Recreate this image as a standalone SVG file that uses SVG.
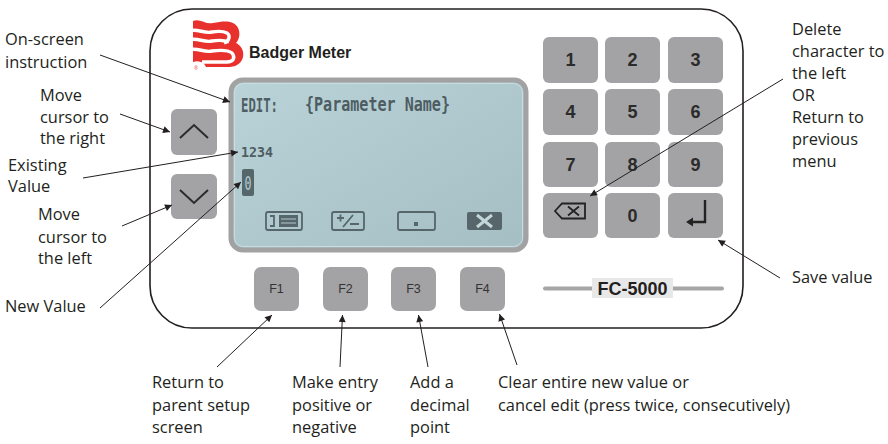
<svg xmlns="http://www.w3.org/2000/svg" width="888" height="444" viewBox="0 0 888 444">
<defs>
<style>
.lbl{font-family:"Open Sans","Liberation Sans",sans-serif;font-size:16.4px;fill:#231f20}
.key{fill:#a3a3a5}
.dig{font-family:"Liberation Sans",Arial,sans-serif;font-weight:bold;font-size:18px;fill:#2b2b2b;text-anchor:middle}
.fk{font-family:"Liberation Sans",Arial,sans-serif;font-size:12.5px;fill:#333;text-anchor:middle}
.lcd{font-family:"DejaVu Sans Mono",monospace;font-weight:bold;fill:#4e5d62}
.ico{fill:none;stroke:#56666b;stroke-width:1.8}
.con line{stroke:#231f20;stroke-width:1;marker-end:url(#ah)}
.red{fill:#e8312d}
</style>
<marker id="ah" viewBox="0 0 10 10" refX="10" refY="5" markerWidth="9" markerHeight="7" markerUnits="userSpaceOnUse" orient="auto">
<path d="M0,0 L10,5 L0,10 Z" fill="#231f20"/>
</marker>
<linearGradient id="scr" x1="0" y1="0" x2="1" y2="1">
<stop offset="0" stop-color="#bad3d9"/>
<stop offset="1" stop-color="#a4bec4"/>
</linearGradient>
</defs>
<rect width="888" height="444" fill="#fff"/>

<g id="device">
<rect x="150" y="9" width="593" height="319" rx="42" fill="#fff" stroke="#231f20" stroke-width="1.6"/>
</g>

<g id="logo">
<path class="red" d="M193,21 C200,18 206,25 213,23 C219,22 225,21 230,22 C240,24 242,36 236,43 C247,48 246,66 230,67 L206,67 C204,62 199,60 193,62 Z"/>
<g fill="none" stroke="#fff" stroke-width="3.4">
<path d="M189,31 C197,28 204,34 212,32 C218,31 223,31 227,33 C231,36 229,41 224,43"/>
<path d="M189,40 C197,37 204,43 212,41 C218,40 224,40 229,42"/>
<path d="M189,50 C197,47 204,53 212,51 C220,50 228,50 232,53 C236,58 233,62 227,62 L202,62"/>
</g>
<text x="196" y="70" font-family="Liberation Sans,sans-serif" font-size="5" fill="#e8312d" text-anchor="middle">®</text>
<text x="249" y="58" font-family="Liberation Sans,Arial,sans-serif" font-weight="bold" font-size="16" fill="#231f20">Badger Meter</text>
</g>

<g id="screen">
<rect x="231" y="80" width="295" height="170" rx="12" fill="url(#scr)" stroke="#a2a2a2" stroke-width="5"/>
<rect x="234.5" y="83.5" width="288" height="163" rx="9" fill="none" stroke="#c9dde1" stroke-width="1"/>
<text class="lcd" x="241" y="112" font-size="19" textLength="37" lengthAdjust="spacingAndGlyphs">EDIT:</text>
<text class="lcd" x="305" y="111" font-size="19" textLength="145" lengthAdjust="spacingAndGlyphs">{Parameter Name}</text>
<text class="lcd" x="241" y="157" font-size="14" textLength="32" lengthAdjust="spacingAndGlyphs" fill="#5a6a6e">1234</text>
<rect x="242" y="169" width="12" height="27" rx="2" fill="#56676c"/>
<text x="248" y="190" font-family="DejaVu Sans Mono,monospace" font-size="20" fill="#b2cacf" text-anchor="middle" textLength="7" lengthAdjust="spacingAndGlyphs">0</text>
<g id="icon-f1">
<rect class="ico" x="266" y="212" width="36" height="18" rx="2"/>
<path d="M270,216 H274 V226 H270" fill="none" stroke="#56666b" stroke-width="1.8"/>
<rect x="279" y="215" width="19" height="12" fill="#56666b"/>
<path d="M281,219 H296 M281,223 H296" stroke="#b0c8cd" stroke-width="1.2"/>
</g>
<g id="icon-f2">
<rect class="ico" x="332" y="212" width="32" height="18" rx="2"/>
<path d="M337,218 H344 M340.5,214.5 V221.5 M353,215 L343,227 M350,224 H359" fill="none" stroke="#56666b" stroke-width="1.8"/>
</g>
<g id="icon-f3">
<rect class="ico" x="398" y="212" width="37" height="18" rx="2"/>
<rect x="414" y="222" width="4" height="4" fill="#56666b"/>
</g>
<g id="icon-f4">
<rect x="467" y="212" width="35" height="18" rx="2" fill="#56666b"/>
<path d="M477,215 L492,227 M492,215 L477,227" stroke="#c3d6da" stroke-width="3"/>
</g>
</g>

<g id="btn-up">
<rect class="key" x="171" y="109" width="46" height="46" rx="6"/>
<polyline points="180,138 194,125 208,138" fill="none" stroke="#2b2b2b" stroke-width="2"/>
</g>
<g id="btn-down">
<rect class="key" x="171" y="174" width="46" height="45" rx="6"/>
<polyline points="180,190 194,203 208,190" fill="none" stroke="#2b2b2b" stroke-width="2"/>
</g>

<g id="keypad">
<g id="k1"><rect class="key" x="543" y="37" width="55" height="46" rx="6"/><text class="dig" x="570.5" y="66">1</text></g>
<g id="k2"><rect class="key" x="605" y="37" width="55" height="46" rx="6"/><text class="dig" x="632.5" y="66">2</text></g>
<g id="k3"><rect class="key" x="668" y="37" width="55" height="46" rx="6"/><text class="dig" x="695.5" y="66">3</text></g>
<g id="k4"><rect class="key" x="543" y="89" width="55" height="46" rx="6"/><text class="dig" x="570.5" y="118">4</text></g>
<g id="k5"><rect class="key" x="605" y="89" width="55" height="46" rx="6"/><text class="dig" x="632.5" y="118">5</text></g>
<g id="k6"><rect class="key" x="668" y="89" width="55" height="46" rx="6"/><text class="dig" x="695.5" y="118">6</text></g>
<g id="k7"><rect class="key" x="543" y="142" width="55" height="45" rx="6"/><text class="dig" x="570.5" y="171">7</text></g>
<g id="k8"><rect class="key" x="605" y="142" width="55" height="45" rx="6"/><text class="dig" x="632.5" y="171">8</text></g>
<g id="k9"><rect class="key" x="668" y="142" width="55" height="45" rx="6"/><text class="dig" x="695.5" y="171">9</text></g>
<g id="kbs"><rect class="key" x="543" y="193" width="55" height="45" rx="6"/>
<path d="M555,211 L562,203.5 H585 V218.5 H562 Z M568,206.5 L579,215.5 M568,215.5 L579,206.5" fill="none" stroke="#222" stroke-width="1.8" stroke-linejoin="miter"/></g>
<g id="k0"><rect class="key" x="605" y="193" width="55" height="45" rx="6"/><text class="dig" x="632.5" y="222">0</text></g>
<g id="kent"><rect class="key" x="668" y="193" width="55" height="45" rx="6"/>
<path d="M705,200 V222 H690" fill="none" stroke="#222" stroke-width="2.4"/>
<path d="M686,222 L693,217.5 V226.5 Z" fill="#222"/></g>
</g>

<g id="fkeys">
<g id="f1"><rect class="key" x="254" y="267" width="45" height="44" rx="7"/><text class="fk" x="276.5" y="293">F1</text></g>
<g id="f2"><rect class="key" x="323" y="267" width="45" height="44" rx="7"/><text class="fk" x="345.5" y="293">F2</text></g>
<g id="f3"><rect class="key" x="391" y="267" width="45" height="44" rx="7"/><text class="fk" x="413.5" y="293">F3</text></g>
<g id="f4"><rect class="key" x="460" y="267" width="45" height="44" rx="7"/><text class="fk" x="482.5" y="293">F4</text></g>
</g>

<g id="model">
<line x1="545" y1="288.5" x2="722" y2="288.5" stroke="#a6a6a6" stroke-width="4" stroke-linecap="round"/>
<rect x="592" y="278" width="81" height="20" fill="#e8e8e8"/>
<text x="632.5" y="294.5" font-family="Liberation Sans,Arial,sans-serif" font-weight="bold" font-size="18" fill="#231f20" text-anchor="middle">FC-5000</text>
</g>

<g id="connectors" class="con">
<line x1="100" y1="55" x2="230" y2="102"/>
<line x1="120" y1="114" x2="170" y2="132"/>
<line x1="83" y1="178" x2="238" y2="152"/>
<line x1="122" y1="226" x2="172" y2="205"/>
<line x1="100" y1="308" x2="241" y2="182"/>
<line x1="783" y1="79" x2="590" y2="196"/>
<line x1="780" y1="278" x2="718" y2="240"/>
<line x1="217" y1="367" x2="272" y2="315"/>
<line x1="340" y1="367" x2="342.5" y2="315"/>
<line x1="428" y1="367" x2="418.5" y2="315"/>
<line x1="517" y1="365" x2="499.5" y2="314"/>
</g>

<g id="lbl-onscreen"><text class="lbl" x="5" y="45">On-screen</text><text class="lbl" x="5" y="68">instruction</text></g>
<g id="lbl-right"><text class="lbl" x="40" y="101">Move</text><text class="lbl" x="40" y="123">cursor to</text><text class="lbl" x="40" y="144">the right</text></g>
<g id="lbl-existing"><text class="lbl" x="8" y="171">Existing</text><text class="lbl" x="8" y="192">Value</text></g>
<g id="lbl-left"><text class="lbl" x="38" y="220">Move</text><text class="lbl" x="38" y="243">cursor to</text><text class="lbl" x="38" y="264">the left</text></g>
<g id="lbl-new"><text class="lbl" x="5" y="312">New Value</text></g>
<g id="lbl-delete"><text class="lbl" x="792" y="35">Delete</text><text class="lbl" x="792" y="57">character to</text><text class="lbl" x="792" y="79">the left</text><text class="lbl" x="792" y="101">OR</text><text class="lbl" x="792" y="123">Return to</text><text class="lbl" x="792" y="145">previous</text><text class="lbl" x="792" y="167">menu</text></g>
<g id="lbl-save"><text class="lbl" x="792" y="283">Save value</text></g>
<g id="lbl-f1"><text class="lbl" x="152" y="388">Return to</text><text class="lbl" x="152" y="411">parent setup</text><text class="lbl" x="152" y="433">screen</text></g>
<g id="lbl-f2"><text class="lbl" x="292" y="388">Make entry</text><text class="lbl" x="292" y="411">positive or</text><text class="lbl" x="292" y="433">negative</text></g>
<g id="lbl-f3"><text class="lbl" x="410" y="388">Add a</text><text class="lbl" x="410" y="411">decimal</text><text class="lbl" x="410" y="433">point</text></g>
<g id="lbl-f4"><text class="lbl" x="498" y="388">Clear entire new value or</text><text class="lbl" x="498" y="411">cancel edit (press twice, consecutively)</text></g>
</svg>
